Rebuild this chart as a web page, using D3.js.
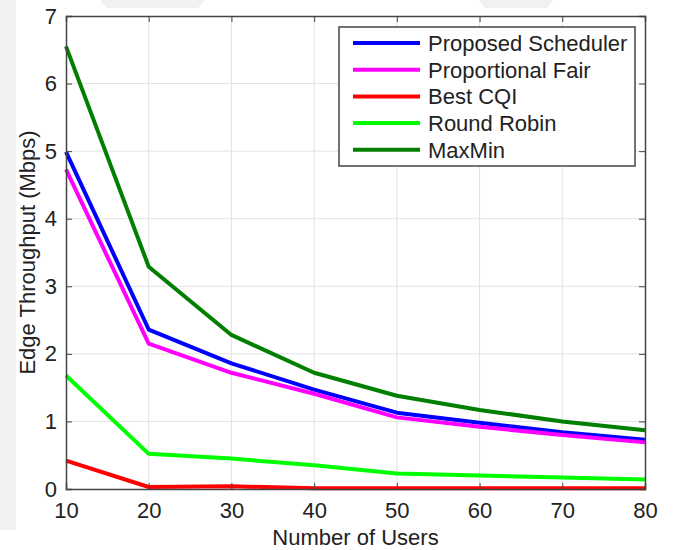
<!DOCTYPE html>
<html><head><meta charset="utf-8">
<script src="https://cdn.jsdelivr.net/npm/d3@7"></script>
<style>body{margin:0;background:#fff}svg{display:block}text{font-family:"Liberation Sans",Arial,sans-serif}</style>
</head><body>
<script>
const users = [10,20,30,40,50,60,70,80];
const seriesNames = ["Proposed Scheduler","Proportional Fair","Best CQI","Round Robin","MaxMin"];
const seriesColors = ["#0000ff","#ff00ff","#ff0000","#00ff00","#007f00"];
const proposed = [4.99,2.36,1.86,1.47,1.13,0.98,0.84,0.73];
const propFair = [4.73,2.15,1.72,1.41,1.06,0.92,0.80,0.69];
const bestCQI  = [0.42,0.03,0.04,0.01,0.01,0.01,0.01,0.01];
const roundRobin = [1.68,0.52,0.45,0.35,0.23,0.20,0.17,0.14];
const maxMin   = [6.55,3.29,2.28,1.72,1.38,1.17,1.00,0.87];
const allSeries = [proposed,propFair,bestCQI,roundRobin,maxMin];
const xTicks = [10,20,30,40,50,60,70,80];
const yTicks = [0,1,2,3,4,5,6,7];

const W=674,H=550;
const svg=d3.select("body").append("svg").attr("width",W).attr("height",H);
const L=66,R=645,T=16,B=489;
const x=d3.scaleLinear().domain([10,80]).range([L,R]);
const y=d3.scaleLinear().domain([0,7]).range([B,T]);

// faint background watermark
const wm=svg.append("g").attr("fill","#f1f1f1");
wm.append("rect").attr("x",0).attr("y",0).attr("width",16).attr("height",530);
wm.append("polygon").attr("points","100,0 205,0 198,8 107,8");
wm.append("polygon").attr("points","479,0 553,0 547,8 485,8");

// grid
const g=svg.append("g");
g.selectAll("line.gx").data(xTicks.slice(1,-1)).join("line")
 .attr("x1",d=>x(d)).attr("x2",d=>x(d)).attr("y1",T).attr("y2",B)
 .attr("stroke","#e2e2e2").attr("stroke-width",1);
g.selectAll("line.gy").data(yTicks.slice(1,-1)).join("line")
 .attr("y1",d=>y(d)).attr("y2",d=>y(d)).attr("x1",L).attr("x2",R)
 .attr("stroke","#e2e2e2").attr("stroke-width",1);

// lines
const line=d3.line().x((d,i)=>x(users[i])).y(d=>y(d));
svg.selectAll("path.s").data(allSeries).join("path")
 .attr("d",d=>line(d)).attr("fill","none")
 .attr("stroke",(d,i)=>seriesColors[i]).attr("stroke-width",4)
 .attr("stroke-linejoin","round");

// axes
const ax=svg.append("g").attr("transform",`translate(0,${B})`)
 .call(d3.axisBottom(x).tickValues(xTicks).tickSize(-6).tickPadding(13).tickFormat(d3.format("d")));
const ay=svg.append("g").attr("transform",`translate(${L},0)`)
 .call(d3.axisLeft(y).tickValues(yTicks).tickSize(-6).tickPadding(9).tickFormat(d3.format("d")));
const axT=svg.append("g").attr("transform",`translate(0,${T})`)
 .call(d3.axisTop(x).tickValues(xTicks).tickSize(-6).tickFormat(""));
const ayR=svg.append("g").attr("transform",`translate(${R},0)`)
 .call(d3.axisRight(y).tickValues(yTicks).tickSize(-6).tickFormat(""));
[ax,ay,axT,ayR].forEach(a=>{
  a.selectAll("path").attr("stroke","#444").attr("stroke-width",1.5);
  a.selectAll("line").attr("stroke","#444");
  a.selectAll("text").attr("font-size",22).attr("fill","#222").attr("font-family","Liberation Sans, Arial, sans-serif");
});

svg.append("text").attr("x",(L+R)/2).attr("y",545).attr("text-anchor","middle")
 .attr("font-size",22).attr("fill","#222").text("Number of Users");
svg.append("text").attr("transform",`translate(35,${(T+B)/2}) rotate(-90)`).attr("text-anchor","middle")
 .attr("font-size",22).attr("fill","#222").text("Edge Throughput (Mbps)");

// legend
const lg=svg.append("g");
lg.append("rect").attr("x",339).attr("y",27).attr("width",296).attr("height",139)
 .attr("fill","#fff").attr("stroke","#444").attr("stroke-width",1.5);
const rows=lg.selectAll("g.r").data(seriesNames).join("g")
 .attr("transform",(d,i)=>`translate(0,${43+i*26.7})`);
rows.append("line").attr("x1",353).attr("x2",420).attr("y1",0).attr("y2",0)
 .attr("stroke",(d,i)=>seriesColors[i]).attr("stroke-width",4);
rows.append("text").attr("x",428).attr("y",8).attr("font-size",22).attr("fill","#222").text(d=>d);
</script>
</body></html>
